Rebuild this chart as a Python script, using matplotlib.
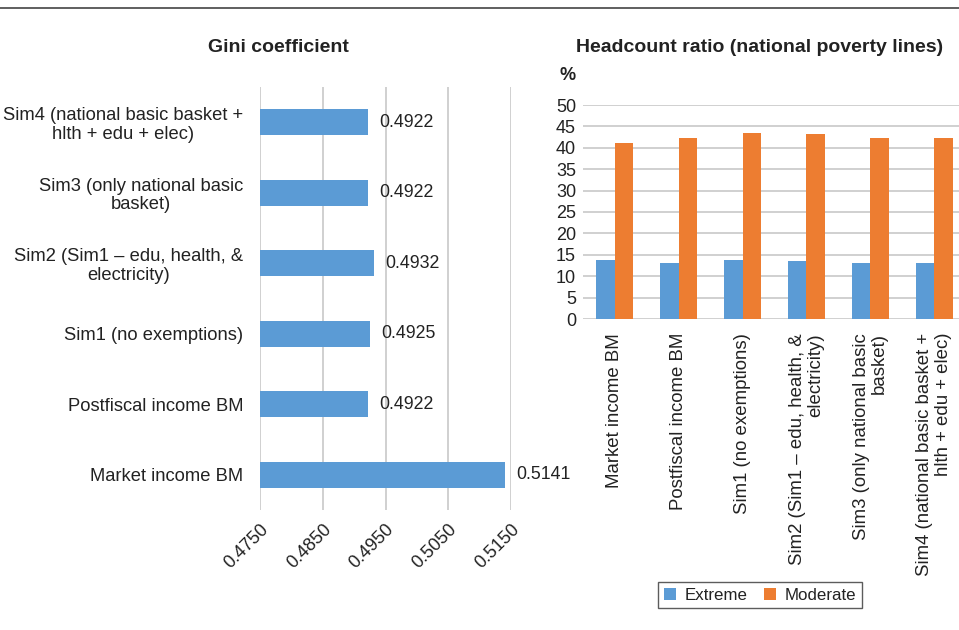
import matplotlib.pyplot as plt
import numpy as np

plt.rcParams["font.family"] = ["Liberation Sans", "DejaVu Sans"]

# left panel: Gini coefficient
gini_labels = ["Market income BM", "Postfiscal income BM", "Sim1 (no exemptions)",
               "Sim2 (Sim1 \u2013 edu, health, &\nelectricity)",
               "Sim3 (only national basic\nbasket)",
               "Sim4 (national basic basket +\nhlth + edu + elec)"]
gini_values = [0.5141, 0.4922, 0.4925, 0.4932, 0.4922, 0.4922]
gini_ticks = [0.4750, 0.4850, 0.4950, 0.5050, 0.5150]

# right panel: headcount ratio
hc_labels = ["Market income BM", "Postfiscal income BM", "Sim1 (no exemptions)",
             "Sim2 (Sim1 \u2013 edu, health, &\nelectricity)",
             "Sim3 (only national basic\nbasket)",
             "Sim4 (national basic basket +\nhlth + edu + elec)"]
extreme = [13.7, 13.1, 13.8, 13.6, 13.1, 13.1]
moderate = [41.2, 42.2, 43.5, 43.3, 42.3, 42.3]
hc_ticks = list(range(0, 55, 5))

blue = "#5B9BD5"
orange = "#ED7D31"
grid = "#C8C8C8"
txt = "#222222"

W, H = 959, 630
fig = plt.figure(figsize=(9.59, 6.3), dpi=100)

# rule at top
fig.add_artist(plt.Line2D([0, 1], [1 - 8 / H, 1 - 8 / H], color="#444444", lw=1.2))

# ---- Gini
ax1 = fig.add_axes([260 / W, 1 - 510 / H, (511 - 260) / W, (510 - 87) / H])
y = np.arange(len(gini_values))
ax1.barh(y, [v - gini_ticks[0] for v in gini_values], left=gini_ticks[0],
         height=0.37, color=blue, zorder=3)
ax1.set_xlim(gini_ticks[0], gini_ticks[-1])
ax1.set_ylim(-0.5, 5.5)
ax1.set_xticks(gini_ticks)
ax1.set_xticklabels([f"{t:.4f}" for t in gini_ticks], rotation=45, ha="right",
                    rotation_mode="anchor", fontsize=13, color=txt)
ax1.set_yticks(y)
ax1.set_yticklabels(gini_labels, fontsize=13.2, color=txt, multialignment="center",
                    linespacing=1.1)
ax1.tick_params(length=0, pad=12)
ax1.tick_params(axis="x", pad=8)
ax1.grid(axis="x", color=grid, lw=1.2, zorder=0)
for s in ax1.spines.values():
    s.set_visible(False)
for yi, v in zip(y, gini_values):
    ax1.text(v + 0.0018, yi, f"{v:.4f}", va="center", ha="left", fontsize=12.8,
             color=txt, clip_on=False)
fig.text(278 / W, 1 - 48 / H, "Gini coefficient", ha="center", va="center",
         fontsize=14, fontweight="bold", color=txt)

# ---- Headcount
ax2 = fig.add_axes([583 / W, 1 - 319 / H, (959 - 583) / W, (319 - 105) / H])
x = np.arange(len(extreme))
bw = 0.29
ax2.bar(x - bw / 2, extreme, bw, color=blue, label="Extreme", zorder=3)
ax2.bar(x + bw / 2, moderate, bw, color=orange, label="Moderate", zorder=3)
ax2.set_ylim(0, 50)
ax2.set_xlim(-0.5, 5.39)
ax2.set_yticks(hc_ticks)
ax2.set_yticklabels([str(t) for t in hc_ticks], fontsize=13, color=txt)
ax2.set_xticks(x)
ax2.set_xticklabels(hc_labels, rotation=90, ha="center", va="top", fontsize=13.4,
                    color=txt, multialignment="right", linespacing=1.1)
ax2.tick_params(length=0)
ax2.tick_params(axis="x", pad=10)
ax2.tick_params(axis="y", pad=5)
ax2.grid(axis="y", color=grid, lw=1.2, zorder=0)
for s in ax2.spines.values():
    s.set_visible(False)
fig.text(760 / W, 1 - 48 / H, "Headcount ratio (national poverty lines)", ha="center",
         va="center", fontsize=14, fontweight="bold", color=txt)
fig.text(568 / W, 1 - 75 / H, "%", ha="center", va="center", fontsize=13,
         fontweight="bold", color=txt)
leg = fig.legend(loc="center", bbox_to_anchor=(760 / W, 1 - 595 / H), ncol=2,
                 fontsize=12.2, frameon=True, fancybox=False, handlelength=0.7,
                 handleheight=0.7, handletextpad=0.5, columnspacing=1.0,
                 borderpad=0.35)
leg.get_frame().set_edgecolor("#333333")
leg.get_frame().set_linewidth(1.0)
for t in leg.get_texts():
    t.set_color(txt)

fig.savefig("out.png", dpi=100)
